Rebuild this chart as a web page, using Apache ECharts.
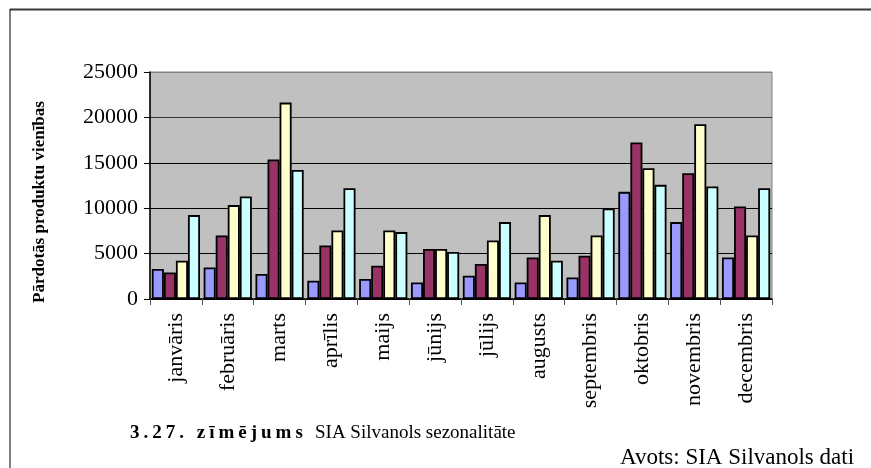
<!DOCTYPE html>
<html>
<head>
<meta charset="utf-8">
<script src="https://cdn.jsdelivr.net/npm/echarts@6/dist/echarts.min.js"></script>
<style>
  html, body { margin: 0; padding: 0; background: #fff; }
  #chart { width: 871px; height: 468px; }
</style>
</head>
<body>
<div id="chart"></div>
<script>
// Monthly sales in product units, four series per month
const months = ['janvāris', 'februāris', 'marts', 'aprīlis', 'maijs', 'jūnijs',
                'jūlijs', 'augusts', 'septembris', 'oktobris', 'novembris', 'decembris'];
const series1 = [3300, 3480, 2750, 2010, 2200, 1830, 2560, 1830, 2380, 11800, 8470, 4580];
const series2 = [2930, 7000, 15360, 5900, 3660, 5500, 3850, 4580, 4760, 17230, 13860, 10190];
const series3 = [4210, 10340, 21630, 7550, 7550, 5500, 6450, 9240, 7000, 14410, 19250, 7000];
const series4 = [9240, 11290, 14220, 12210, 7370, 5170, 8470, 4210, 9970, 12570, 12390, 12210];
const yTicks = [0, 5000, 10000, 15000, 20000, 25000];

const axisTitle = 'Pārdotās produktu vienības';
const captionBold = '3.27. zīmējums';
const captionText = 'SIA Silvanols sezonalitāte';
const sourceText = 'Avots: SIA Silvanols dati';

const serif = '"Liberation Serif", "DejaVu Serif", serif';
const colors = ['#9999FF', '#993366', '#FFFFCC', '#CCFFFF'];

function barSeries(name, data, color) {
  return {
    name: name,
    type: 'bar',
    data: data,
    barGap: '0%',
    barCategoryGap: '7%',
    itemStyle: { color: color, borderColor: '#000', borderWidth: 1.8 }
  };
}

// spaced-out bold caption lead: each glyph is a rich fragment with side padding
const spacedCaption = Array.from(captionBold)
  .map(ch => '{b|' + ch + '}')
  .join('');

const chart = echarts.init(document.getElementById('chart'), null, { renderer: 'canvas' });
chart.setOption({
  animation: false,
  backgroundColor: '#fff',
  grid: {
    left: 150, top: 72, right: 99, bottom: 169,
    show: true, backgroundColor: '#C0C0C0', borderColor: '#808080', borderWidth: 1
  },
  xAxis: {
    type: 'category',
    data: months,
    axisLine: { lineStyle: { color: '#000', width: 1.5 } },
    axisTick: { show: true, length: 6, lineStyle: { color: '#555' } },
    axisLabel: {
      rotate: 90, margin: 14, color: '#000',
      fontFamily: serif, fontSize: 22
    }
  },
  yAxis: {
    type: 'value',
    min: yTicks[0],
    max: yTicks[yTicks.length - 1],
    interval: yTicks[1] - yTicks[0],
    axisLine: { show: true, lineStyle: { color: '#000', width: 1.5 } },
    axisTick: { show: true, length: 6, lineStyle: { color: '#000' } },
    axisLabel: {
      margin: 12, color: '#000', fontFamily: serif, fontSize: 22,
      formatter: v => String(v)
    },
    splitLine: {
      show: true,
      lineStyle: { color: ['#000', '#000', '#000', '#000', '#333', '#808080'], width: 1 }
    }
  },
  series: [
    barSeries('1. sērija', series1, colors[0]),
    barSeries('2. sērija', series2, colors[1]),
    barSeries('3. sērija', series3, colors[2]),
    barSeries('4. sērija', series4, colors[3])
  ],
  graphic: [
    // outer frame: top and left edges
    { type: 'line', shape: { x1: 10, y1: 9.5, x2: 871, y2: 9.5 },
      style: { stroke: '#3a3a3a', lineWidth: 2 } },
    { type: 'line', shape: { x1: 10, y1: 9, x2: 10, y2: 468 },
      style: { stroke: '#000', lineWidth: 1 } },
    // vertical axis title
    { type: 'text', x: 40, y: 202, rotation: Math.PI / 2,
      style: { text: axisTitle, fill: '#000', font: 'bold 17px ' + serif,
               align: 'center', verticalAlign: 'middle' } },
    // figure caption
    { type: 'text', x: 128, y: 433,
      style: {
        text: spacedCaption, fill: '#000', align: 'left', verticalAlign: 'middle',
        rich: { b: { font: 'bold 19px ' + serif, fill: '#000', padding: [0, 2, 0, 2] } }
      } },
    { type: 'text', x: 315, y: 433,
      style: { text: captionText, fill: '#000', font: '19px ' + serif,
               align: 'left', verticalAlign: 'middle' } },
    // data source note
    { type: 'text', x: 620, y: 458,
      style: { text: sourceText, fill: '#000', font: '23px ' + serif,
               align: 'left', verticalAlign: 'middle' } }
  ]
});
</script>
</body>
</html>
